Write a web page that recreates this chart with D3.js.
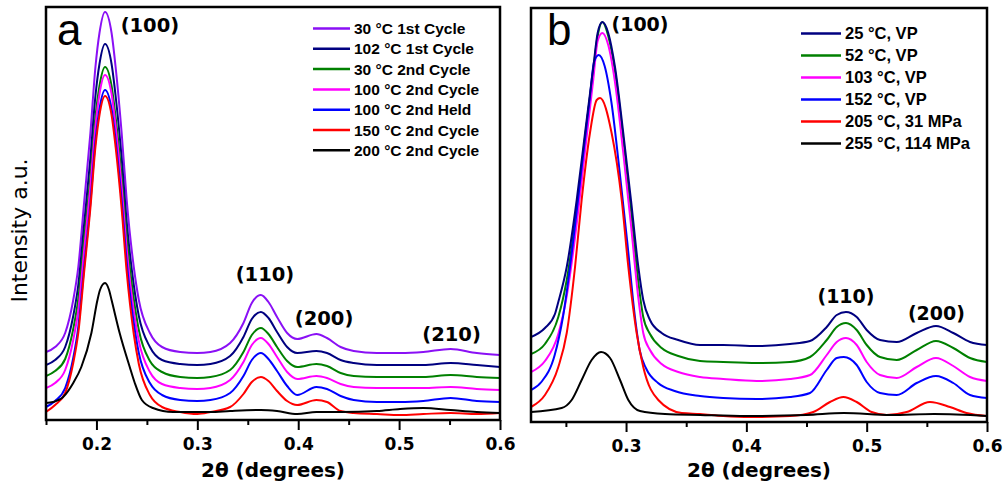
<!DOCTYPE html>
<html>
<head>
<meta charset="utf-8">
<script src="https://cdn.jsdelivr.net/npm/d3@7"></script>
<style>
  body { margin: 0; background: #fff; }
  svg { display: block; }
</style>
</head>
<body>
<svg id="fig" width="1005" height="490"></svg>
<script>
// ---------------- Panel a: heating / cooling cycles ----------------
const aNames = ["30 °C 1st Cycle", "102 °C 1st Cycle", "30 °C 2nd Cycle", "100 °C 2nd Cycle",
                "100 °C 2nd Held", "150 °C 2nd Cycle", "200 °C 2nd Cycle"];

// [2θ (degrees), intensity (a.u.)]
const a30C1st = [[0.150,68],[0.159,73],[0.169,87],[0.177,120],[0.182,153],[0.188,220],[0.194,287],[0.199,353],[0.203,387],[0.2085,408],[0.215,387],[0.219,353],[0.225,287],[0.230,220],[0.237,153],[0.242,120],[0.253,87],[0.265,73],[0.283,68],[0.300,67],[0.313,68],[0.3325,77],[0.3457,97],[0.354,117],[0.363,125],[0.3705,118],[0.379,103],[0.389,87],[0.399,81],[0.418,86],[0.4285,82],[0.442,73],[0.455,69],[0.478,67],[0.501,67],[0.524,68],[0.551,71],[0.577,67],[0.600,65]];
const a102C1st = [[0.150,55],[0.159,60],[0.169,73],[0.177,104],[0.182,135],[0.188,198],[0.194,262],[0.199,324],[0.203,356],[0.2085,376],[0.215,356],[0.219,324],[0.225,262],[0.230,198],[0.237,135],[0.242,104],[0.253,73],[0.265,60],[0.283,56],[0.300,55],[0.313,56],[0.3325,64],[0.3457,83],[0.354,101],[0.363,108],[0.3705,102],[0.379,88],[0.389,73],[0.399,67],[0.418,69],[0.4285,67],[0.442,60],[0.455,57],[0.478,55],[0.501,55],[0.524,55],[0.551,57],[0.577,55],[0.600,53]];
const a30C2nd = [[0.150,44],[0.159,49],[0.169,61],[0.177,91],[0.182,121],[0.188,183],[0.194,243],[0.199,303],[0.203,334],[0.2085,353],[0.215,334],[0.219,303],[0.225,243],[0.230,183],[0.237,121],[0.242,90],[0.253,59],[0.265,48],[0.283,43],[0.300,42],[0.313,43],[0.3325,50],[0.3457,68],[0.354,85],[0.363,92],[0.3705,86],[0.379,73],[0.389,59],[0.399,53],[0.418,56],[0.4285,54],[0.442,47],[0.455,44],[0.478,43],[0.501,43],[0.524,43],[0.551,45],[0.577,43],[0.600,42]];
const a100C2nd = [[0.150,32],[0.159,37],[0.169,50],[0.177,80],[0.182,110],[0.188,172],[0.194,234],[0.199,294],[0.203,326],[0.2085,345],[0.215,326],[0.219,294],[0.225,233],[0.230,171],[0.237,109],[0.242,79],[0.253,48],[0.265,36],[0.283,32],[0.300,31],[0.313,32],[0.3325,40],[0.3457,58],[0.354,75],[0.363,82],[0.3705,76],[0.379,63],[0.389,48],[0.399,41],[0.418,44],[0.4285,42],[0.442,36],[0.455,33],[0.478,32],[0.501,32],[0.524,32],[0.551,33],[0.577,31],[0.600,30]];
const a100CHeld = [[0.150,13],[0.159,19],[0.169,32],[0.177,62],[0.182,93],[0.188,155],[0.194,217],[0.199,279],[0.203,311],[0.2085,330],[0.215,311],[0.219,280],[0.225,219],[0.230,158],[0.237,97],[0.242,67],[0.253,37],[0.265,25],[0.283,20],[0.300,19],[0.313,20],[0.3325,27],[0.3457,44],[0.354,60],[0.363,67],[0.3705,61],[0.379,49],[0.389,34],[0.399,25],[0.418,33],[0.4285,31],[0.442,24],[0.455,20],[0.478,18],[0.501,18],[0.524,19],[0.551,22],[0.577,19],[0.600,18]];
const a150C2nd = [[0.150,8],[0.159,15],[0.169,27],[0.177,57],[0.182,87],[0.188,150],[0.194,212],[0.199,273],[0.203,305],[0.2085,324],[0.215,305],[0.219,273],[0.225,211],[0.230,148],[0.237,86],[0.242,56],[0.253,25],[0.265,13],[0.283,8],[0.300,6],[0.313,8],[0.3325,13],[0.3457,26],[0.354,38],[0.363,43],[0.3705,39],[0.379,29],[0.389,19],[0.399,15],[0.418,20],[0.4285,18],[0.442,9],[0.455,7],[0.478,6],[0.501,5],[0.524,6],[0.551,7],[0.577,6],[0.600,7]];
const a200C2nd = [[0.150,17],[0.157,18],[0.167,23],[0.177,37],[0.185,53],[0.195,87],[0.201,120],[0.2035,130],[0.2085,137],[0.2125,130],[0.215,120],[0.223,87],[0.233,53],[0.238,37],[0.245,20],[0.256,12],[0.276,8],[0.300,8],[0.313,8],[0.3325,9],[0.363,10],[0.379,9],[0.399,6],[0.418,8],[0.442,8],[0.478,9],[0.501,11],[0.524,12],[0.551,10],[0.577,8],[0.600,7]];
const aSeries = [a30C1st, a102C1st, a30C2nd, a100C2nd, a100CHeld, a150C2nd, a200C2nd];

const aMajorTicks = [0.2, 0.3, 0.4, 0.5, 0.6];
const aMinorTicks = [0.15, 0.25, 0.35, 0.45, 0.55];
const aPeakText  = ["(100)", "(110)", "(200)", "(210)"];
const aPeakTheta = [0.253, 0.367, 0.4256, 0.552];
const aPeakLevel = [388, 139, 95, 79];

// ---------------- Panel b: temperature / pressure series ----------------
const bNames = ["25 °C, VP", "52 °C, VP", "103 °C, VP", "152 °C, VP", "205 °C, 31 MPa", "255 °C, 114 MPa"];

const b25C = [[0.221,85],[0.2326,94],[0.2409,108],[0.2437,120],[0.2507,155],[0.259,222],[0.2659,289],[0.2728,355],[0.2764,389],[0.2803,400],[0.2852,389],[0.2908,355],[0.2977,289],[0.3041,222],[0.3102,155],[0.3143,122],[0.3199,102],[0.3296,89],[0.3434,82],[0.3615,77],[0.3808,77],[0.4086,76],[0.4363,78],[0.4529,81],[0.4668,95],[0.4751,107],[0.4828,110],[0.4917,105],[0.5,92],[0.5111,82],[0.525,80],[0.5416,89],[0.5576,96],[0.572,89],[0.5859,80],[0.600,77]];
const b52C = [[0.221,68],[0.2326,78],[0.2437,105],[0.2507,142],[0.259,213],[0.2659,285],[0.2728,352],[0.2764,386],[0.2803,400],[0.2852,386],[0.2908,351],[0.2977,283],[0.3041,212],[0.3102,140],[0.3143,105],[0.3199,88],[0.3296,74],[0.3434,66],[0.3615,61],[0.3808,60],[0.4086,59],[0.4363,60],[0.4529,65],[0.4668,82],[0.4751,95],[0.4828,99],[0.4917,92],[0.5,77],[0.5111,65],[0.525,62],[0.5416,72],[0.5576,81],[0.572,74],[0.5859,64],[0.600,60]];
const b103C = [[0.221,50],[0.2326,61],[0.2437,88],[0.2507,126],[0.259,198],[0.2659,271],[0.2728,343],[0.2764,381],[0.2803,389],[0.2852,377],[0.2908,340],[0.2977,269],[0.3041,197],[0.3102,124],[0.3143,89],[0.3199,72],[0.3296,58],[0.3434,50],[0.3615,45],[0.3808,43],[0.4086,41],[0.4363,43],[0.4529,47],[0.4668,67],[0.4751,80],[0.4828,84],[0.4917,77],[0.5,60],[0.5111,47],[0.525,44],[0.5416,55],[0.5576,64],[0.572,56],[0.5859,45],[0.600,41]];
const b152C = [[0.221,32],[0.2296,40],[0.2407,67],[0.2477,106],[0.256,180],[0.2629,252],[0.2698,323],[0.2734,360],[0.2773,367],[0.2822,356],[0.2878,320],[0.2947,250],[0.3011,179],[0.3072,107],[0.3113,72],[0.3169,53],[0.3266,39],[0.3404,31],[0.3615,26],[0.3808,24],[0.4086,23],[0.4363,25],[0.4529,29],[0.4668,52],[0.4751,64],[0.481,65],[0.4917,57],[0.5,40],[0.5111,29],[0.525,27],[0.5416,39],[0.5576,46],[0.572,39],[0.5859,27],[0.600,24]];
const b205C = [[0.221,15],[0.2326,27],[0.2437,55],[0.2507,89],[0.2576,155],[0.2631,222],[0.27,289],[0.2756,322],[0.2784,324],[0.288,289],[0.2964,222],[0.3019,155],[0.3088,89],[0.3143,55],[0.3268,22],[0.3463,9],[0.3615,8],[0.3808,6],[0.403,5],[0.4363,6],[0.4556,10],[0.4695,20],[0.4806,25],[0.4917,20],[0.5041,10],[0.5166,7],[0.5332,10],[0.5526,20],[0.5692,15],[0.583,9],[0.600,6]];
const b255C = [[0.221,10],[0.2465,14],[0.2548,22],[0.2631,42],[0.2714,62],[0.2792,70],[0.2867,64],[0.295,42],[0.3019,22],[0.3116,11],[0.3324,8],[0.3615,7],[0.40,6],[0.45,7],[0.481,9],[0.52,7],[0.556,8],[0.600,6]];
const bSeries = [b25C, b52C, b103C, b152C, b205C, b255C];

const bMajorTicks = [0.3, 0.4, 0.5, 0.6];
const bMinorTicks = [0.25, 0.35, 0.45, 0.55];
const bPeakText  = ["(100)", "(110)", "(200)"];
const bPeakTheta = [0.3116, 0.4828, 0.558];
const bPeakLevel = [391, 119, 102];

// ---------------- styling ----------------
const aColors = ["#8a10f5", "#000080", "#008000", "#ff00ff", "#0000ff", "#ff0000", "#000000"];
const bColors = ["#000080", "#008000", "#ff00ff", "#0000ff", "#ff0000", "#000000"];
// drawing order (indices into the series); the navy trace sits on top in panel b
const aOrder = [0, 1, 2, 3, 4, 5, 6];
const bOrder = [1, 2, 3, 4, 5, 0];

const panels = [
  { id: "a", names: aNames, series: aSeries, colors: aColors, order: aOrder,
    xDomain: [0.15, 0.6], yMax: 413,
    box: { left: 46, right: 500, top: 7, bottom: 420 },
    major: aMajorTicks, minor: aMinorTicks,
    peakText: aPeakText, peakTheta: aPeakTheta, peakLevel: aPeakLevel,
    legend: { x1: 313, x2: 350, y0: 28.5, dy: 20.3, font: 15.5 },
    letterX: 57, yTitle: true },
  { id: "b", names: bNames, series: bSeries, colors: bColors, order: bOrder,
    xDomain: [0.221, 0.6], yMax: 414,
    box: { left: 531, right: 987, top: 8, bottom: 422 },
    major: bMajorTicks, minor: bMinorTicks,
    peakText: bPeakText, peakTheta: bPeakTheta, peakLevel: bPeakLevel,
    legend: { x1: 801, x2: 841, y0: 33.5, dy: 22, font: 16.5 },
    letterX: 547, yTitle: false }
];

const svg = d3.select("#fig");
const fmt = d3.format(".1f");

panels.forEach(p => {
  const b = p.box;
  const x = d3.scaleLinear().domain(p.xDomain).range([b.left, b.right]);
  const y = d3.scaleLinear().domain([0, p.yMax]).range([b.bottom, b.top]);
  const g = svg.append("g");

  const clipId = "clip-" + p.id;
  svg.append("clipPath").attr("id", clipId)
    .append("rect").attr("x", b.left).attr("y", b.top)
    .attr("width", b.right - b.left).attr("height", b.bottom - b.top);

  const line = d3.line()
    .x(d => x(d[0])).y(d => y(d[1]))
    .curve(d3.curveMonotoneX);

  g.append("g").attr("clip-path", `url(#${clipId})`)
    .selectAll("path").data(p.order).join("path")
    .attr("d", i => line(p.series[i]))
    .attr("fill", "none")
    .attr("stroke", i => p.colors[i])
    .attr("stroke-width", 2)
    .attr("stroke-linejoin", "round");

  // bottom axis: major ticks with labels, minor ticks without
  const majorAxis = d3.axisBottom(x).tickValues(p.major).tickSize(10)
    .tickPadding(8).tickFormat(fmt);
  const minorAxis = d3.axisBottom(x).tickValues(p.minor).tickSize(5).tickFormat("");

  const ax = g.append("g").attr("transform", `translate(0,${b.bottom})`).call(majorAxis);
  const axm = g.append("g").attr("transform", `translate(0,${b.bottom})`).call(minorAxis);
  [ax, axm].forEach(a => {
    a.select(".domain").remove();
    a.selectAll(".tick line").attr("stroke", "#000").attr("stroke-width", 2);
  });
  ax.selectAll(".tick text")
    .attr("fill", "#000")
    .style("font-family", "'DejaVu Sans', sans-serif")
    .style("font-weight", "bold")
    .style("font-size", "17px");

  // frame
  g.append("rect")
    .attr("x", b.left).attr("y", b.top)
    .attr("width", b.right - b.left).attr("height", b.bottom - b.top)
    .attr("fill", "none").attr("stroke", "#000").attr("stroke-width", 2.5);

  // x-axis title
  g.append("text")
    .attr("x", (b.left + b.right) / 2).attr("y", 477)
    .attr("text-anchor", "middle")
    .style("font-family", "'DejaVu Sans', sans-serif")
    .style("font-weight", "bold").style("font-size", "20px")
    .text("2θ (degrees)");

  // y-axis title
  if (p.yTitle) {
    g.append("text")
      .attr("transform", `translate(27,${(b.top + b.bottom) / 2 + 17}) rotate(-90)`)
      .attr("text-anchor", "middle")
      .style("font-family", "'DejaVu Sans', sans-serif")
      .style("font-size", "22px")
      .text("Intensity a.u.");
  }

  // panel letter
  g.append("text")
    .attr("x", p.letterX).attr("y", 45)
    .style("font-family", "'Liberation Sans', Arial, sans-serif")
    .style("font-size", "44px")
    .text(p.id);

  // reflection labels
  g.selectAll("text.peak").data(p.peakText).join("text")
    .attr("class", "peak")
    .attr("x", (d, i) => x(p.peakTheta[i]))
    .attr("y", (d, i) => y(p.peakLevel[i]))
    .attr("text-anchor", "middle")
    .style("font-family", "'DejaVu Sans', sans-serif")
    .style("font-weight", "bold")
    .style("font-size", p.id === "a" ? "19.5px" : "19px")
    .text(d => d);

  // legend
  const L = p.legend;
  const lg = g.append("g");
  const rows = lg.selectAll("g").data(p.names).join("g")
    .attr("transform", (d, i) => `translate(0,${L.y0 + i * L.dy})`);
  rows.append("line")
    .attr("x1", L.x1).attr("x2", L.x2)
    .attr("stroke", (d, i) => p.colors[i]).attr("stroke-width", 2.5);
  rows.append("text")
    .attr("x", L.x2 + 4).attr("y", L.font * 0.36)
    .style("font-family", "'Liberation Sans', Arial, sans-serif")
    .style("font-weight", "bold")
    .style("font-size", L.font + "px")
    .text(d => d);
});
</script>
</body>
</html>
